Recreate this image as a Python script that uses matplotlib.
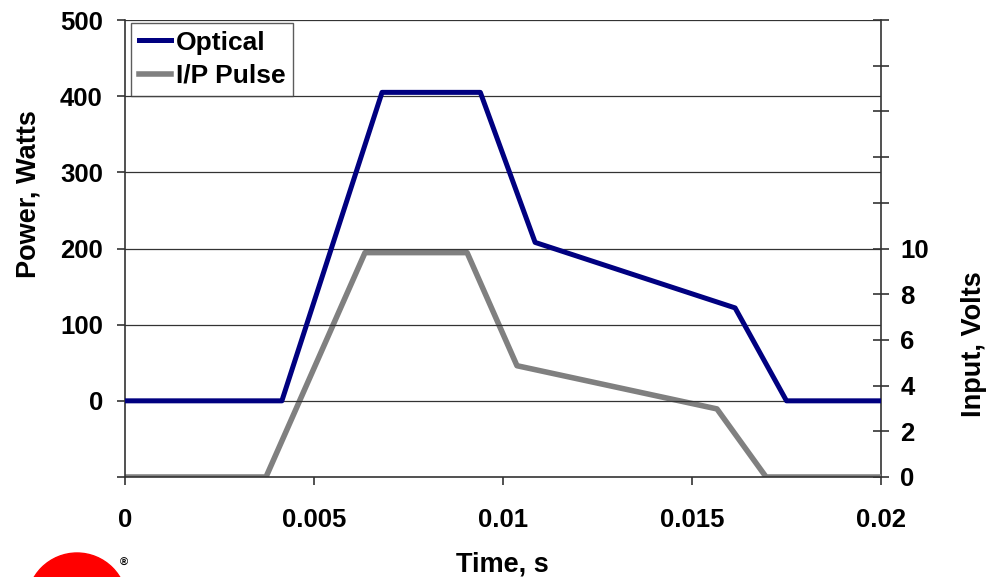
import matplotlib
matplotlib.use("Agg")
import matplotlib.pyplot as plt
from matplotlib.patches import Circle
from matplotlib.lines import Line2D

plt.rcParams['font.family'] = ['Liberation Sans', 'DejaVu Sans']
plt.rcParams['font.weight'] = 'bold'

# Optical output power (W) vs time (s)
optical_t = [0.0, 0.00415, 0.0068, 0.0094, 0.01085, 0.01614, 0.0175, 0.02]
optical_w = [0.0, 0.0, 405.0, 405.0, 208.0, 122.0, 0.0, 0.0]

# Input drive pulse (V) vs time (s)
pulse_t = [0.0, 0.00373, 0.00635, 0.00905, 0.01037, 0.01566, 0.01696, 0.02]
pulse_v = [0.0, 0.0, 9.82, 9.82, 4.87, 2.98, 0.0, 0.0]

left_ticks = [-100, 0, 100, 200, 300, 400, 500]
left_labels = ['', '0', '100', '200', '300', '400', '500']
right_ticks = [0, 2, 4, 6, 8, 10, 12, 14, 16, 18, 20]
right_labels = ['0', '2', '4', '6', '8', '10', '', '', '', '', '']
x_ticks = [0, 0.005, 0.01, 0.015, 0.02]
x_labels = ['0', '0.005', '0.01', '0.015', '0.02']

W, H = 989, 577
fig = plt.figure(figsize=(W / 100, H / 100), dpi=100)
ax = fig.add_axes([125 / W, 1 - 477 / H, (881 - 125) / W, (477 - 20) / H])
ax2 = ax.twinx()

fs_tick = 18.5
fs_label = 19.5
fs_leg = 19
grid_c = '#333333'

ax.set_xlim(0, 0.02)
ax.set_ylim(-100, 500)
ax.set_yticks(left_ticks)
ax.set_yticklabels(left_labels)
ax.set_xticks(x_ticks)
ax.set_xticklabels(x_labels)
for v in left_ticks[1:]:
    ax.axhline(v, color=grid_c, lw=0.9, zorder=0)

for s in ['top', 'right']:
    ax.spines[s].set_visible(False)
for s in ['left', 'bottom']:
    ax.spines[s].set_color('#333333')
    ax.spines[s].set_linewidth(1.2)
ax.tick_params(axis='y', direction='out', length=6, width=1.2, color='#333333',
               labelsize=fs_tick, pad=10)
ax.tick_params(axis='x', direction='out', length=6, width=1.2, color='#333333',
               labelsize=fs_tick, pad=16)

ax2.set_ylim(0, 20)
ax2.set_yticks(right_ticks)
ax2.set_yticklabels(right_labels)
for s in ['top', 'left', 'bottom']:
    ax2.spines[s].set_visible(False)
ax2.spines['right'].set_color('#333333')
ax2.spines['right'].set_linewidth(1.2)
ax2.tick_params(axis='y', direction='inout', length=12, width=1.2, color='#333333',
                labelsize=fs_tick, pad=8)

ax2.plot(pulse_t, pulse_v, color='#808080', lw=4.0, solid_joinstyle='round', zorder=3)
ax.set_zorder(ax2.get_zorder() + 1)
ax.patch.set_visible(False)
ax.plot(optical_t, optical_w, color='#000080', lw=3.6, solid_joinstyle='round', zorder=3)

# Axis titles
fig.text(502 / W, 1 - 572 / H, 'Time, s', fontsize=fs_label, fontweight='bold',
         ha='center', va='baseline')
fig.text(36 / W, 1 - 194 / H, 'Power, Watts', fontsize=fs_label, fontweight='bold',
         rotation=90, rotation_mode='anchor', ha='center', va='baseline')
fig.text(981 / W, 1 - 344 / H, 'Input, Volts', fontsize=fs_label, fontweight='bold',
         rotation=90, rotation_mode='anchor', ha='center', va='baseline')

handles = [Line2D([], [], color='#000080', lw=3.6),
           Line2D([], [], color='#808080', lw=4.0)]
leg = ax.legend(handles, ['Optical', 'I/P Pulse'], loc='upper left',
                bbox_to_anchor=(0.008, 0.994), fontsize=fs_leg, frameon=True,
                fancybox=False, handlelength=1.2, handletextpad=0.2,
                borderpad=0.3, labelspacing=0.35, borderaxespad=0.0)
leg.get_frame().set_edgecolor('#333333')
leg.get_frame().set_linewidth(1.0)

# Company mark in the lower-left corner
fig.add_artist(Circle((0.77, -0.26), 0.5, transform=fig.dpi_scale_trans,
                      color='#ff0000', clip_on=False))
fig.text(124 / W, 1 - 563 / H, '®', fontsize=8, ha='center', va='center')

fig.savefig('out.png', dpi=100)
